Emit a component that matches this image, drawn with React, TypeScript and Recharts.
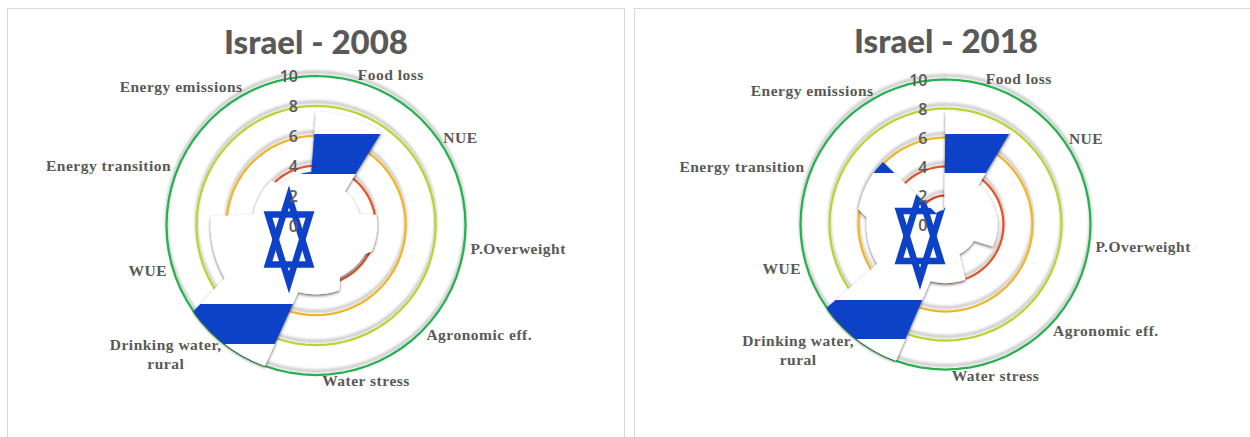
import { PolarAngleAxis, PolarRadiusAxis, Radar, RadarChart } from 'recharts';

const categories = [
  'Food loss',
  'NUE',
  'P.Overweight',
  'Agronomic eff.',
  'Water stress',
  'Drinking water,\nrural',
  'WUE',
  'Energy transition',
  'Energy emissions',
];

const values2008 = [7.6, 3.0, 4.1, 3.8, 4.6, 10, 7.05, 4.25, 3.6];
const values2018 = [7.8, 3.55, 3.6, 2.25, 4.05, 10, 5.45, 6.1, 1.0];

const ringLevels = [2, 4, 6, 8, 10];
const radiusTicks = [0, 2, 4, 6, 8, 10];

const ringColors = ['#d8401f', '#e0562a', '#f0b429', '#b7d433', '#25b04f'];

// each sector is sampled every 5 degrees, the last step drops to the next sector
const SAMPLES_PER_SECTOR = 8;

// nudges from the axis tick point to where each category name sits
const labelOffsets = [
  [21, -2],
  [8, -9],
  [47, -4],
  [62, -11],
  [50, -2],
  [-49, -1],
  [-13, 18],
  [-71, 19],
  [-81, 10],
];

const BLUE = '#0a42c8';
const GREY = '#595959';

function buildRows(values: number[]) {
  const rows: Record<string, number>[] = [];
  values.forEach((value) => {
    for (let s = 0; s < SAMPLES_PER_SECTOR; s++) {
      const row: Record<string, number> = { point: rows.length, score: value };
      ringLevels.forEach((level) => {
        row[`ring${level}`] = level;
      });
      rows.push(row);
    }
  });
  return rows;
}

function CategoryTick({ x, y, index }: any) {
  if (index % SAMPLES_PER_SECTOR !== 4) return null;
  const sector = (index - 4) / SAMPLES_PER_SECTOR;
  const [dx, dy] = labelOffsets[sector];
  const lines = categories[sector].split('\n');
  return (
    <text
      x={x + dx}
      y={y + dy + 5}
      textAnchor="middle"
      fill={GREY}
      style={{ fontFamily: '"Liberation Serif"', fontWeight: 700, fontSize: 15.5, letterSpacing: 0.5 }}
    >
      {lines.map((line, i) => (
        <tspan key={line} x={x + dx} dy={i === 0 ? 0 : 19}>
          {line}
        </tspan>
      ))}
    </text>
  );
}

function RadiusTick({ x, y, payload }: any) {
  return (
    <text
      x={x - 18}
      y={y + 6}
      textAnchor="end"
      fill={GREY}
      style={{ fontFamily: '"Open Sans"', fontWeight: 600, fontSize: 16 }}
    >
      {payload.value}
    </text>
  );
}

type FlagProps = { id: string; stripes: number[][]; starX: number; starY: number; size: number[] };

// white field with two blue bands and a six pointed star
function FlagPattern({ id, stripes, starX, starY, size }: FlagProps) {
  const up = `${starX},${starY - 43} ${starX - 21},${starY + 25} ${starX + 21},${starY + 25}`;
  const down = `${starX},${starY + 43} ${starX - 21},${starY - 25} ${starX + 21},${starY - 25}`;
  return (
    <pattern id={id} patternUnits="userSpaceOnUse" x={0} y={0} width={size[0]} height={size[1]}>
      <rect width={size[0]} height={size[1]} fill="#ffffff" />
      {stripes.map(([top, bottom]) => (
        <rect key={top} x={0} y={top} width={size[0]} height={bottom - top} fill={BLUE} />
      ))}
      <polygon points={up} fill="none" stroke={BLUE} strokeWidth={6.5} strokeMiterlimit={10} />
      <polygon points={down} fill="none" stroke={BLUE} strokeWidth={6.5} strokeMiterlimit={10} />
    </pattern>
  );
}

type PanelProps = {
  id: string;
  title: string;
  values: number[];
  left: number;
  top: number;
  width: number;
  height: number;
  cx: number;
  cy: number;
  radius: number;
  titleX: number;
  titleY: number;
  stripes: number[][];
  starX: number;
  starY: number;
};

const layer = { position: 'absolute', left: 0, top: 0 } as const;

function Panel(p: PanelProps) {
  const rows = buildRows(p.values);
  const chartProps = {
    width: p.width - 2,
    height: p.height - 2,
    data: rows,
    cx: p.cx,
    cy: p.cy,
    outerRadius: p.radius,
    startAngle: 90,
    endAngle: -270,
    margin: { top: 0, right: 0, bottom: 0, left: 0 },
  };
  return (
    <div
      style={{
        position: 'absolute',
        left: p.left,
        top: p.top,
        width: p.width,
        height: p.height,
        boxSizing: 'border-box',
        border: '1px solid #d9d9d9',
        background: '#ffffff',
      }}
    >
      <div
        style={{
          position: 'absolute',
          left: p.titleX - 150,
          top: p.titleY - 26,
          width: 300,
          height: 50,
          lineHeight: '50px',
          textAlign: 'center',
          fontFamily: 'Lato',
          fontWeight: 900,
          fontSize: 33,
          color: GREY,
        }}
      >
        {p.title}
      </div>
      {/* category names sit under the filled area, the radius numbers above it */}
      <div style={layer}>
        <RadarChart {...chartProps}>
          <PolarAngleAxis dataKey="point" tick={CategoryTick} tickLine={false} axisLine={false} />
          <PolarRadiusAxis angle={90} domain={[0, 10]} tick={false} tickLine={false} axisLine={false} />
          <Radar dataKey="ring10" stroke="none" fill="none" dot={false} isAnimationActive={false} />
        </RadarChart>
      </div>
      <div style={layer}>
        <RadarChart {...chartProps}>
          <defs>
            <FlagPattern
              id={`flag-${p.id}`}
              stripes={p.stripes}
              starX={p.starX}
              starY={p.starY}
              size={[p.width, p.height]}
            />
            <filter id={`shade-${p.id}`} x="-10%" y="-10%" width="120%" height="120%">
              <feDropShadow dx={0} dy={1.5} stdDeviation={1.5} floodColor="#000000" floodOpacity={0.6} />
            </filter>
            <filter id={`glow-${p.id}`} x="-10%" y="-10%" width="120%" height="120%">
              <feDropShadow dx={0} dy={-4} stdDeviation={1.5} floodColor="#000000" floodOpacity={0.3} />
            </filter>
          </defs>
          <PolarAngleAxis dataKey="point" tick={false} tickLine={false} axisLine={false} />
          <PolarRadiusAxis angle={90} domain={[0, 10]} tick={false} tickLine={false} axisLine={false} />
          {ringLevels.map((level, i) => (
            <Radar
              key={level}
              dataKey={`ring${level}`}
              stroke={ringColors[i]}
              strokeWidth={2.25}
              fill="none"
              dot={false}
              isAnimationActive={false}
              filter={`url(#glow-${p.id})`}
            />
          ))}
          <Radar
            dataKey="score"
            stroke="none"
            fill={`url(#flag-${p.id})`}
            fillOpacity={1}
            dot={false}
            isAnimationActive={false}
            filter={`url(#shade-${p.id})`}
          />
        </RadarChart>
      </div>
      <div style={layer}>
        <RadarChart {...chartProps}>
          <PolarAngleAxis dataKey="point" tick={false} tickLine={false} axisLine={false} />
          <PolarRadiusAxis
            angle={90}
            domain={[0, 10]}
            ticks={radiusTicks as any}
            tick={RadiusTick}
            tickLine={false}
            axisLine={false}
          />
          <Radar dataKey="ring10" stroke="none" fill="none" dot={false} isAnimationActive={false} />
        </RadarChart>
      </div>
    </div>
  );
}

export default function App() {
  return (
    <div style={{ position: 'absolute', left: 0, top: 0, width: 1250, height: 437, overflow: 'hidden', background: '#ffffff' }}>
      <Panel
        id="2008"
        title="Israel - 2008"
        values={values2008}
        left={7}
        top={8}
        width={618}
        height={445}
        cx={308}
        cy={216.5}
        radius={149.5}
        titleX={308}
        titleY={33}
        stripes={[[125, 165], [295, 335]]}
        starX={281}
        starY={230.5}
      />
      <Panel
        id="2018"
        title="Israel - 2018"
        values={values2018}
        left={634}
        top={8}
        width={625}
        height={445}
        cx={310.5}
        cy={215.5}
        radius={145}
        titleX={311}
        titleY={32}
        stripes={[[125, 164], [291, 330]]}
        starX={285}
        starY={227}
      />
    </div>
  );
}
